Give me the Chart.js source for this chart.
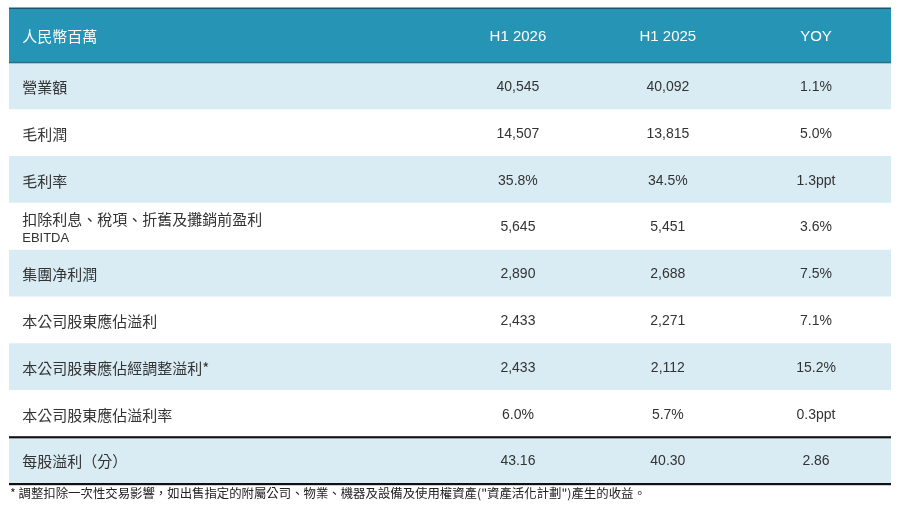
<!DOCTYPE html>
<html>
<head>
<meta charset="utf-8">
<script src="https://cdn.jsdelivr.net/npm/chart.js@4"></script>
<style>
  html, body { margin: 0; padding: 0; background: #fff; }
  #wrap { width: 900px; height: 507px; }
</style>
</head>
<body>
<div id="wrap"><canvas id="tabela" width="900" height="507"></canvas></div>
<script>
'use strict';

// Dados da tabela
const colunas = ['人民幣百萬', 'H1 2026', 'H1 2025', 'YOY'];
const linhas = [
    '營業額',
    '毛利潤',
    '毛利率',
    '扣除利息、稅項、折舊及攤銷前盈利\nEBITDA',
    '集團净利潤',
    '本公司股東應佔溢利',
    '本公司股東應佔經調整溢利*',
    '本公司股東應佔溢利率',
    '每股溢利（分）',
];
const h1_2026 = ['40,545', '14,507', '35.8%', '5,645', '2,890', '2,433', '2,433', '6.0%', '43.16'];
const h1_2025 = ['40,092', '13,815', '34.5%', '5,451', '2,688', '2,271', '2,112', '5.7%', '40.30'];
const yoy = ['1.1%', '5.0%', '1.3ppt', '3.6%', '7.5%', '7.1%', '15.2%', '0.3ppt', '2.86'];
const nota = '* 調整扣除一次性交易影響，如出售指定的附屬公司、物業、機器及設備及使用權資產("資產活化計劃")產生的收益。';

// posição das colunas no eixo x (0-100)
const posColunas = [1.5, 57.7, 74.7, 91.5];

const corCabecalho = '#2694b5';
const corClara = '#d9ecf4';
const fonteCJK = '"Noto Sans CJK TC", "Noto Sans CJK SC", sans-serif';
const fonteNum = '"Liberation Sans", Arial, "Noto Sans CJK TC", sans-serif';

const categorias = ['cabecalho'].concat(linhas);
const faixas = categorias.map(() => [0, 100]);
const coresFaixas = categorias.map((c, i) => (i === 0 ? corCabecalho : i % 2 === 1 ? corClara : '#ffffff'));

/* Plugin que escreve os textos e as linhas da tabela */
const tabelaPlugin = {
    id: 'tabelaPlugin',
    beforeDatasetsDraw: function (chart) {
        const ctx = chart.ctx;
        const area = chart.chartArea;
        const yS = chart.scales.y;
        const meio = (yS.getPixelForTick(1) - yS.getPixelForTick(0)) / 2;
        // estende o cabeçalho até a linha superior
        ctx.save();
        ctx.fillStyle = corCabecalho;
        ctx.fillRect(area.left, 8, area.right - area.left, yS.getPixelForTick(0) - meio - 8 + 1);
        ctx.restore();
    },
    afterDatasetsDraw: function (chart) {
        const ctx = chart.ctx;
        const area = chart.chartArea;
        const xS = chart.scales.x;
        const yS = chart.scales.y;
        const meio = (yS.getPixelForTick(1) - yS.getPixelForTick(0)) / 2;
        const fimCab = yS.getPixelForTick(0) + meio;
        const ySep = yS.getPixelForTick(linhas.length) - meio;

        ctx.save();
        // linhas
        function linha(y, cor, larg) {
            ctx.fillStyle = cor;
            ctx.fillRect(area.left, y, area.right - area.left, larg);
        }
        linha(7.5, '#1d5568', 1.5);
        linha(fimCab - 1, '#2a6f86', 1.5);
        linha(ySep - 1, '#111111', 2);
        linha(ySep + 1, '#9a9a9a', 0.8);
        linha(area.bottom - 1, '#111111', 2.2);

        // cabeçalho
        ctx.textBaseline = 'middle';
        ctx.fillStyle = '#ffffff';
        const yCab = (8 + fimCab) / 2 + 1;
        colunas.forEach(function (txt, c) {
            ctx.textAlign = c === 0 ? 'left' : 'center';
            ctx.font = c === 0 ? '15px ' + fonteCJK : '15px ' + fonteNum;
            ctx.fillText(txt, xS.getPixelForValue(posColunas[c]), yCab);
        });

        // linhas de dados
        ctx.fillStyle = '#333333';
        linhas.forEach(function (rot, i) {
            const y = yS.getPixelForTick(i + 1) + 1;
            ctx.textAlign = 'left';
            const partes = rot.split('\n');
            if (partes.length > 1) {
                ctx.font = '15px ' + fonteCJK;
                ctx.fillText(partes[0], xS.getPixelForValue(posColunas[0]), y - 8);
                ctx.font = '13px ' + fonteNum;
                ctx.fillText(partes[1], xS.getPixelForValue(posColunas[0]), y + 11);
            } else {
                ctx.font = '15px ' + fonteCJK;
                ctx.fillText(rot, xS.getPixelForValue(posColunas[0]), y);
            }
            ctx.textAlign = 'center';
            ctx.font = '14px ' + fonteNum;
            ctx.fillText(h1_2026[i], xS.getPixelForValue(posColunas[1]), y);
            ctx.fillText(h1_2025[i], xS.getPixelForValue(posColunas[2]), y);
            ctx.fillText(yoy[i], xS.getPixelForValue(posColunas[3]), y);
        });

        // nota de rodapé
        ctx.textAlign = 'left';
        ctx.font = '12.4px ' + fonteCJK;
        ctx.fillStyle = '#222222';
        ctx.fillText(nota, area.left + 1, area.bottom + 9);
        ctx.restore();
    },
};

var tabelaCtx = document.getElementById('tabela').getContext('2d');
var tabelaChart = new Chart(tabelaCtx, {
    type: 'bar',
    data: {
        labels: categorias,
        datasets: [
            {
                data: faixas,
                backgroundColor: coresFaixas,
                borderWidth: 0,
                barPercentage: 1,
                categoryPercentage: 1,
            },
        ],
    },
    options: {
        indexAxis: 'y',
        responsive: false,
        animation: false,
        layout: {
            padding: { left: 9, right: 9, top: 16, bottom: 23 },
        },
        plugins: {
            legend: { display: false },
            tooltip: { enabled: false },
        },
        scales: {
            x: { type: 'linear', min: 0, max: 100, display: false },
            y: { type: 'category', display: false, grid: { display: false } },
        },
    },
    plugins: [tabelaPlugin],
});
</script>
</body>
</html>
